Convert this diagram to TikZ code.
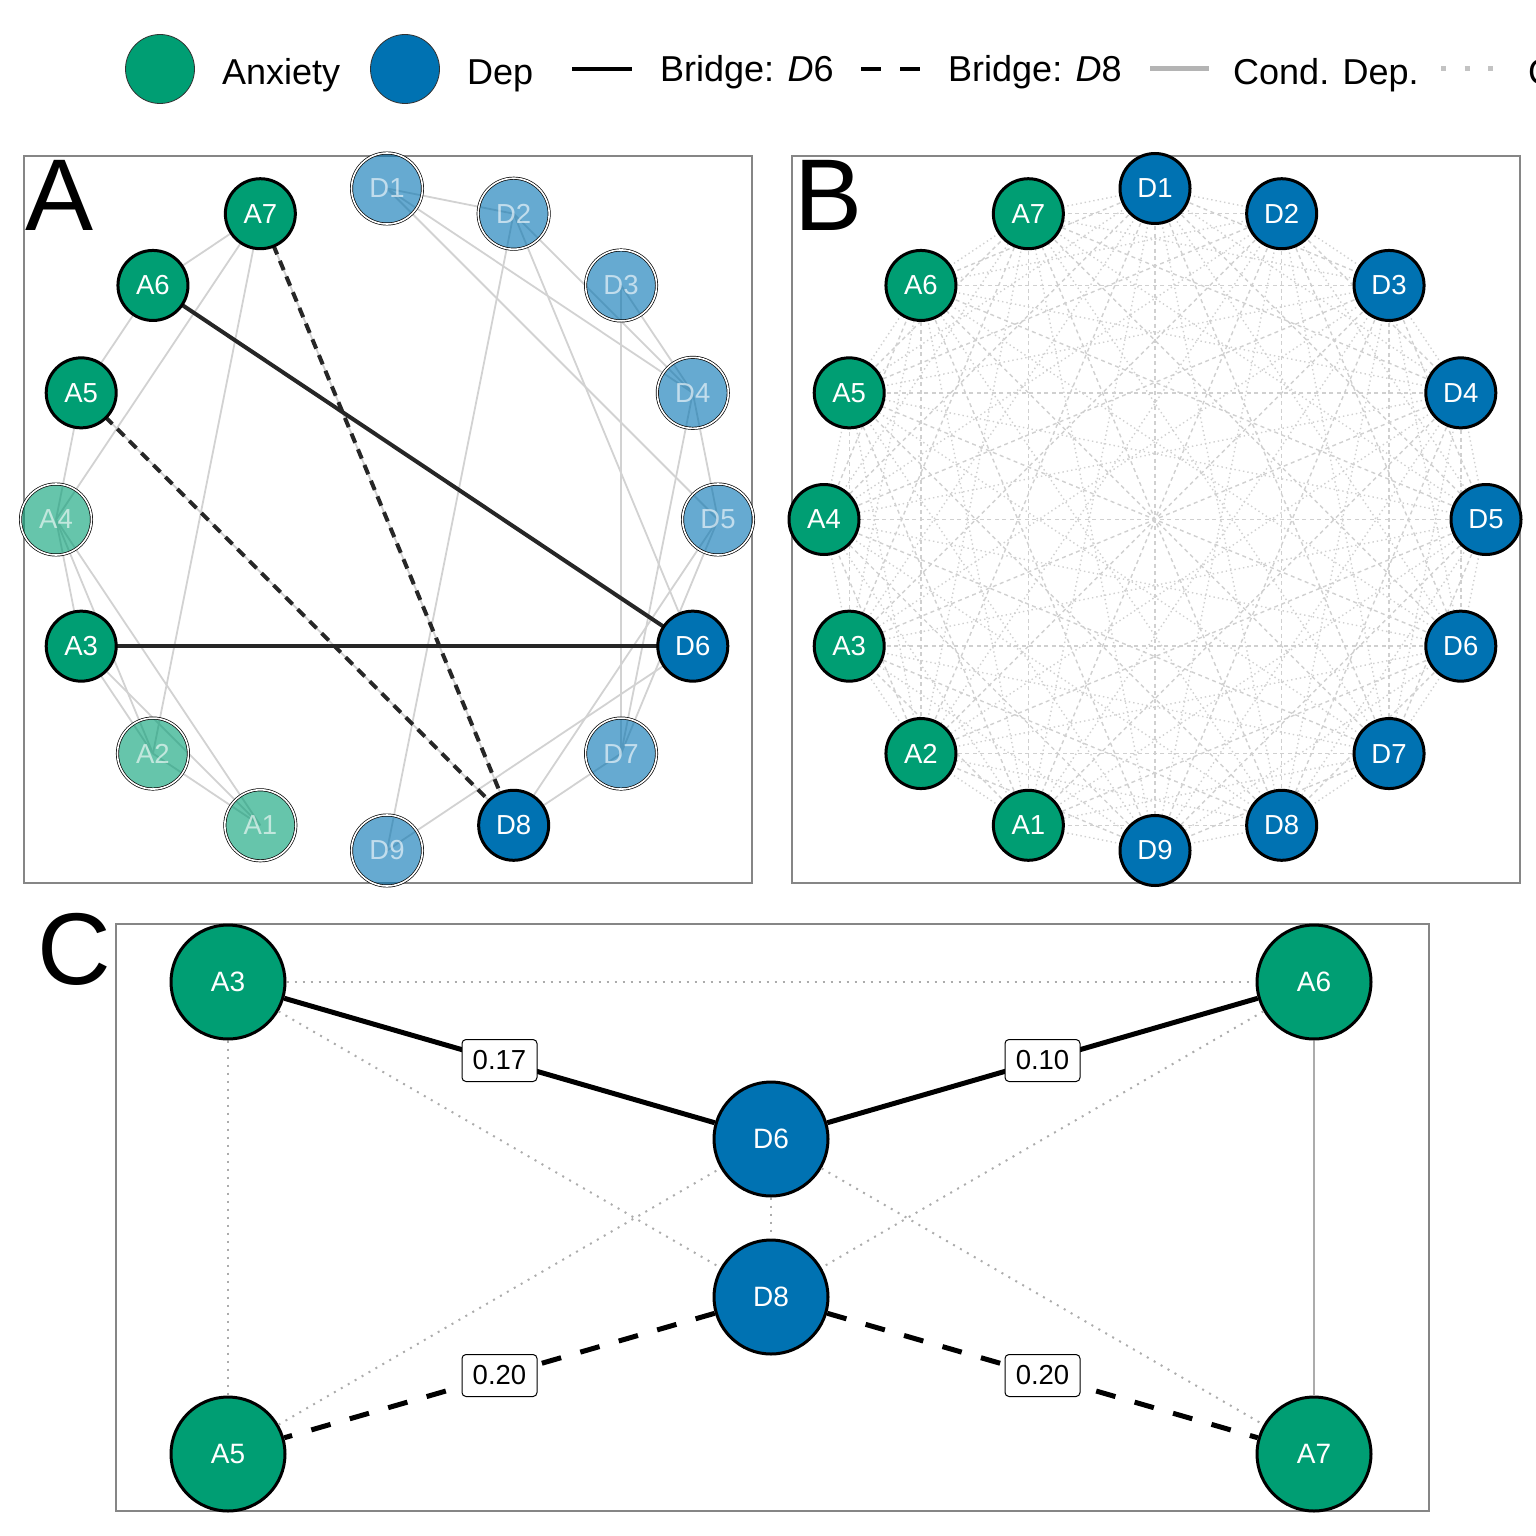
\documentclass[tikz,border=0pt]{standalone}
\usepackage{fontspec}
\setmainfont{Liberation Sans}
\definecolor{anx}{HTML}{009E73}
\definecolor{dep}{HTML}{0072B2}
\definecolor{framegrey}{RGB}{134,134,134}
\definecolor{edgeA}{RGB}{210,210,210}
\definecolor{edgeB}{RGB}{208,208,208}
\definecolor{edgeC}{RGB}{172,172,172}
\definecolor{legendgrey}{RGB}{180,180,180}
\definecolor{legenddot}{RGB}{195,195,195}
\pgfdeclarelayer{edges}
\pgfsetlayers{edges,main}
\tikzset{
  netnode/.style={circle, inner sep=0pt, text=white, font=\fontsize{27.5}{30}\selectfont},
  solidA/.style={netnode, minimum size=70pt, draw=black, line width=3pt},
  fadeA/.style={netnode, minimum size=71pt, draw=black, line width=0.7pt, double=white, double distance=1.6pt, fill opacity=0.6, text opacity=0.6},
  solidC/.style={netnode, minimum size=114pt, draw=black, line width=3pt, font=\fontsize{28}{30}\selectfont},
  condA/.style={draw=edgeA, line width=1.8pt},
  bridgeA/.style={draw=black!85, line width=4pt},
  bridgeAdash/.style={draw=black!85, line width=4pt, dash pattern=on 10pt off 7pt},
  bdot/.style={draw=edgeB, line width=1.4pt, dash pattern=on 1.4pt off 3pt},
  bdash/.style={draw=edgeB, line width=1.4pt, dash pattern=on 4pt off 3.5pt},
  cdot/.style={draw=edgeC, line width=2pt, dash pattern=on 2pt off 6pt},
  cgrey/.style={draw=edgeC, line width=2pt},
  cbridge/.style={draw=black, line width=5pt},
  cbridgedash/.style={draw=black, line width=5pt, dash pattern=on 20pt off 20pt},
  lbl/.style={solid, draw=black, line width=1pt, fill=white, rounded corners=4pt, text=black,
    minimum width=75pt, minimum height=42pt, inner sep=0pt, font=\fontsize{27.5}{30}\selectfont},
  legtext/.style={anchor=base west, inner sep=0pt, text=black, font=\fontsize{36}{40}\selectfont},
  panelletter/.style={anchor=base west, inner sep=0pt, text=black, font=\fontsize{102}{104}\selectfont},
  panelframe/.style={draw=framegrey, line width=2pt}
}
\begin{document}
\begin{tikzpicture}[x=1pt,y=-1pt]
\useasboundingbox (0,0) rectangle (1536,1536);
\clip (0,0) rectangle (1536,1536);

% ---------------- legend ----------------
\node[circle, fill=anx, draw=black!80, line width=0.8pt, minimum size=69pt, inner sep=0pt] (lgA) at (160,69) {};
\node[legtext] (lgAt) at (222,85) {Anxiety};
\node[circle, fill=dep, draw=black!80, line width=0.8pt, minimum size=69pt, inner sep=0pt] (lgD) at (405,69) {};
\node[legtext] (lgDt) at (467,85) {Dep};
\coordinate (lg1a) at (572,69); \coordinate (lg1b) at (632,69);
\draw[draw=black, line width=4.5pt] (lg1a) -- (lg1b);
\node[legtext] (lg1t) at (660,82) {Bridge: \textit{D}6};
\coordinate (lg2a) at (861,69); \coordinate (lg2b) at (921,69);
\draw[draw=black, line width=4.5pt, dash pattern=on 20pt off 19pt] (lg2a) -- (lg2b);
\node[legtext] (lg2t) at (948,82) {Bridge: \textit{D}8};
\coordinate (lg3a) at (1150,69); \coordinate (lg3b) at (1209,69);
\draw[draw=legendgrey, line width=5pt] (lg3a) -- (lg3b);
\node[legtext] (lg3t) at (1233,85) {Cond. Dep.};
\coordinate (lg4a) at (1441,69); \coordinate (lg4b) at (1494,69);
\draw[draw=legenddot, line width=5pt, dash pattern=on 5pt off 18.5pt] (lg4a) -- (lg4b);
\node[legtext] (lg4t) at (1528,85) {Cond. Indep.};

% ---------------- frames and letters ----------------
\draw[panelframe] (24,156) rectangle (752,883);
\draw[panelframe] (792,156) rectangle (1520,883);
\draw[panelframe] (116,924) rectangle (1429,1511);
\node[panelletter] (letA) at (25,230) {A};
\node[panelletter] (letB) at (794,230) {B};
\node[panelletter] (letC) at (37,984) {C};

% ---------------- panel A ----------------
\foreach \n/\ang in {D1/90, D2/67.5, D3/45, D4/22.5, D5/0, D7/-45, D9/-90}
  \node[fadeA, fill=dep] (a\n) at ({387+331*cos(\ang)},{519.5-331*sin(\ang)}) {\n};
\foreach \n/\ang in {A1/-112.5, A2/-135, A4/180}
  \node[fadeA, fill=anx] (a\n) at ({387+331*cos(\ang)},{519.5-331*sin(\ang)}) {\n};
\foreach \n/\ang in {D6/-22.5, D8/-67.5}
  \node[solidA, fill=dep] (a\n) at ({387+331*cos(\ang)},{519.5-331*sin(\ang)}) {\n};
\foreach \n/\ang in {A3/-157.5, A5/157.5, A6/135, A7/112.5}
  \node[solidA, fill=anx] (a\n) at ({387+331*cos(\ang)},{519.5-331*sin(\ang)}) {\n};

\begin{pgfonlayer}{edges}
\foreach \u/\v in {A7/A6, A7/A4, A7/A2, A6/A5, A5/A4, A4/A3, A4/A2, A4/A1, A3/A2, A3/A1, A2/A1,
                   D1/D2, D1/D4, D1/D5, D2/D4, D2/D9, D2/D6, D3/D4, D3/D7, D4/D5, D4/D7,
                   D5/D7, D5/D8, D6/D9, D7/D8, A7/D8, A5/D8}
  \draw[condA] (a\u.center) -- (a\v.center);
\draw[bridgeA] (aA6.center) -- (aD6.center);
\draw[bridgeA] (aA3.center) -- (aD6.center);
\draw[bridgeAdash] (aA7.center) -- (aD8.center);
\draw[bridgeAdash] (aA5.center) -- (aD8.center);
\end{pgfonlayer}

% ---------------- panel B ----------------
\foreach \n [count=\i] in {D1,D2,D3,D4,D5,D6,D7,D8,D9}
  \node[solidA, fill=dep] (b\i) at ({1155+331*cos(90-22.5*(\i-1))},{519.5-331*sin(90-22.5*(\i-1))}) {\n};
\foreach \k in {1,...,7}{
  \pgfmathtruncatemacro\idx{9+\k}
  \node[solidA, fill=anx] (b\idx) at ({1155+331*cos(90-22.5*(\idx-1))},{519.5-331*sin(90-22.5*(\idx-1))}) {A\k};
}
\begin{pgfonlayer}{edges}
\foreach \i in {1,...,16}{
  \foreach \j in {1,...,16}{
    \ifnum\i<\j
      \ifodd\numexpr\i+\j\relax
        \draw[bdot] (b\i.center) -- (b\j.center);
      \else
        \draw[bdash] (b\i.center) -- (b\j.center);
      \fi
    \fi
  }
}
\end{pgfonlayer}

% ---------------- panel C ----------------
\node[solidC, fill=anx] (cA3) at (228,982) {A3};
\node[solidC, fill=anx] (cA6) at (1314,982) {A6};
\node[solidC, fill=dep] (cD6) at (771,1139) {D6};
\node[solidC, fill=dep] (cD8) at (771,1297) {D8};
\node[solidC, fill=anx] (cA5) at (228,1454) {A5};
\node[solidC, fill=anx] (cA7) at (1314,1454) {A7};

\draw[cdot] (cA3) -- (cA6);
\draw[cdot] (cA3) -- (cA5);
\draw[cdot] (cA3) -- (cD8);
\draw[cdot] (cA5) -- (cD6);
\draw[cdot] (cA6) -- (cD8);
\draw[cdot] (cD6) -- (cA7);
\draw[cdot] (cD6) -- (cD8);
\draw[cgrey] (cA6) -- (cA7);
\draw[cbridge] (cA3) -- node[lbl] (l17) {0.17} (cD6);
\draw[cbridge] (cA6) -- node[lbl] (l10) {0.10} (cD6);
\draw[cbridgedash] (cD8) -- node[lbl] (l20a) {0.20} (cA5);
\draw[cbridgedash] (cD8) -- node[lbl] (l20b) {0.20} (cA7);
\end{tikzpicture}
\end{document}
